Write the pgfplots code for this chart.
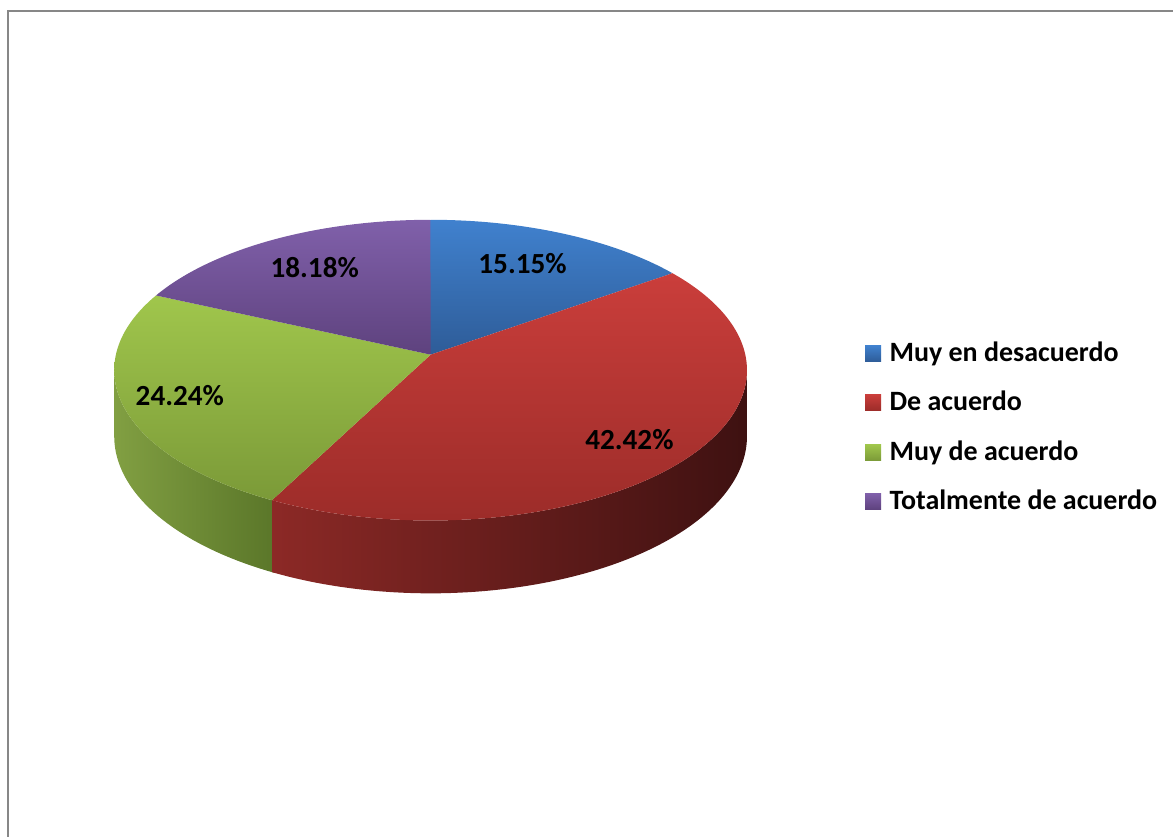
\documentclass[border=0pt]{standalone}
\usepackage{pgfplots}
\pgfplotsset{compat=1.18}
\usepackage{fontspec}
\setmainfont{Carlito}

\definecolor{blueT}{HTML}{4081CE}
\definecolor{blueB}{HTML}{2E5C98}
\definecolor{redT}{HTML}{CA3E3B}
\definecolor{redB}{HTML}{9C2C29}
\definecolor{greenT}{HTML}{A0C64C}
\definecolor{greenB}{HTML}{7B9A38}
\definecolor{purpT}{HTML}{8060AA}
\definecolor{purpB}{HTML}{5E427E}
\definecolor{redSL}{HTML}{8C2926}
\definecolor{redSM}{HTML}{561716}
\definecolor{redSR}{HTML}{3E1111}
\definecolor{greenSL}{HTML}{819F42}
\definecolor{greenSR}{HTML}{5A7629}
\definecolor{frame}{HTML}{878787}

% data (percent)
\def\vA{15.15}% Muy en desacuerdo
\def\vB{42.42}% De acuerdo
\def\vC{24.24}% Muy de acuerdo
\def\vD{18.18}% Totalmente de acuerdo

\pgfmathsetmacro\aA{90}
\pgfmathsetmacro\aB{\aA-3.6*\vA}
\pgfmathsetmacro\aC{\aB-3.6*\vB}
\pgfmathsetmacro\aD{\aC-3.6*\vC}
\pgfmathsetmacro\aE{\aD-3.6*\vD}
\pgfmathsetmacro\aCg{\aC+0.8}

% perspective projection of the pie (pixel coordinates)
\pgfmathdeclarefunction{px}{1}{\pgfmathparse{431+315*cos(#1)/(1+0.1029*sin(#1))}}
\pgfmathdeclarefunction{py}{1}{\pgfmathparse{355-148.9*sin(#1)/(1+0.1029*sin(#1))}}
\pgfmathdeclarefunction{pd}{1}{\pgfmathparse{65.4/(1+0.1029*sin(#1))}}

\begin{document}
\begin{tikzpicture}
\begin{axis}[
  width=587pt, height=419pt, scale only axis,
  xmin=0, xmax=1174, ymin=0, ymax=838, y dir=reverse,
  hide axis, clip=false,
]
% page extent
\addplot[draw=none] coordinates {(0,0) (1174,838)};
% frame
\addplot[draw=frame, line width=1.1pt] coordinates {(1174,11) (8,11) (8,838)};

% side faces
\addplot[draw=none, left color=greenSL, right color=greenSR, domain=0:2, samples=301, variable=\s]
  ({px(-174.1+(\aCg+174.1)*min(\s,2-\s))},
   {py(-174.1+(\aCg+174.1)*min(\s,2-\s)) + (\s>1)*pd(-174.1+(\aCg+174.1)*min(\s,2-\s))}) -- cycle;
\addplot[draw=none, left color=redSL, middle color=redSM, right color=redSR, domain=0:2, samples=401, variable=\s]
  ({px(\aC+(-5.9-\aC)*min(\s,2-\s))},
   {py(\aC+(-5.9-\aC)*min(\s,2-\s)) + (\s>1)*pd(\aC+(-5.9-\aC)*min(\s,2-\s))}) -- cycle;

% top faces
\addplot[draw=none, top color=blueT, bottom color=blueB, domain=\aB:\aA, samples=60, variable=\t]
  ({px(\t)},{py(\t)}) -- (axis cs:431,355) -- cycle;
\addplot[draw=none, top color=redT, bottom color=redB, domain=\aC:\aB, samples=120, variable=\t]
  ({px(\t)},{py(\t)}) -- (axis cs:431,355) -- cycle;
\addplot[draw=none, top color=greenT, bottom color=greenB, domain=\aD:\aC, samples=80, variable=\t]
  ({px(\t)},{py(\t)}) -- (axis cs:431,355) -- cycle;
\addplot[draw=none, top color=purpT, bottom color=purpB, domain=\aE:\aD, samples=70, variable=\t]
  ({px(\t)},{py(\t)}) -- (axis cs:431,355) -- cycle;

% data labels
\begin{scope}[every node/.style={font=\fontsize{14.6}{17}\selectfont\bfseries, text=black, inner sep=0pt, anchor=base}]
\node at (axis cs:523,274) {15.15\%};
\node at (axis cs:630,450) {42.42\%};
\node at (axis cs:180,406) {24.24\%};
\node at (axis cs:315,278) {18.18\%};
\end{scope}

% legend
\addplot[draw=none, top color=blueT, bottom color=blueB] coordinates {(866,346) (882,346) (882,362) (866,362)} -- cycle;
\addplot[draw=none, top color=redT, bottom color=redB] coordinates {(866,395) (882,395) (882,411) (866,411)} -- cycle;
\addplot[draw=none, top color=greenT, bottom color=greenB] coordinates {(866,445) (882,445) (882,461) (866,461)} -- cycle;
\addplot[draw=none, top color=purpT, bottom color=purpB] coordinates {(866,494) (882,494) (882,510) (866,510)} -- cycle;
\begin{scope}[every node/.style={font=\fontsize{14}{17}\selectfont\bfseries, text=black, inner sep=0pt, anchor=base west}]
\node at (axis cs:890,362) {Muy en desacuerdo};
\node at (axis cs:890,411) {De acuerdo};
\node at (axis cs:890,461) {Muy de acuerdo};
\node at (axis cs:890,510) {Totalmente de acuerdo};
\end{scope}
\end{axis}
\end{tikzpicture}
\end{document}
